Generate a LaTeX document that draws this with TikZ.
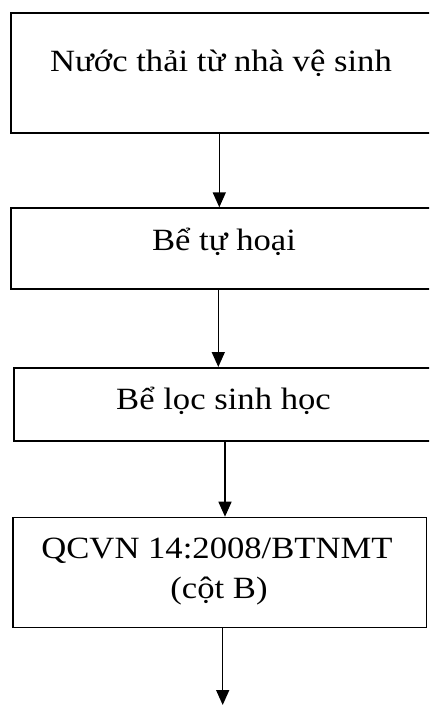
\documentclass[tikz,border=0pt]{standalone}
\usepackage{fontspec}
\setmainfont[FakeStretch=1.12]{Liberation Serif}
\usetikzlibrary{arrows.meta}
\begin{document}
\begin{tikzpicture}[x=0.75pt,y=-0.75pt,
  box/.style={draw, line width=1.15pt, inner sep=0pt, anchor=north west},
  lbl/.style={anchor=base, inner sep=0pt, font=\fontsize{23.2pt}{27pt}\selectfont},
  flow/.style={line width=1.15pt, -{Triangle[width=9.75pt,length=11.25pt]}}]
\useasboundingbox (0,0) rectangle (429,706);
\clip (0,0) rectangle (429,706);
\node[box, minimum width=316.5pt, minimum height=89.8pt] (b1) at (10,12.3) {};
\node[box, minimum width=321pt, minimum height=60.5pt] (b2) at (10,207.3) {};
\node[box, minimum width=315.5pt, minimum height=55.1pt] (b3) at (13.3,367) {};
\node[box, minimum width=310pt, minimum height=82.5pt] (b4) at (12.3,516.7) {};
\node[lbl] (t1) at (221,72) {Nước thải từ nhà vệ sinh};
\node[lbl] (t2) at (224,250) {Bể tự hoại};
\node[lbl] (t3) at (223.5,409) {Bể lọc sinh học};
\node[lbl] (t4a) at (217,558) {QCVN 14:2008/BTNMT};
\node[lbl] (t4b) at (219,598) {(cột B)};
\coordinate (a1) at (219.3,0);
\coordinate (a2) at (218.3,0);
\coordinate (a3) at (225,0);
\coordinate (a4) at (222.7,0);
\coordinate (end) at (222.7,705);
\draw[flow] (b1.south -| a1) -- (b2.north -| a1);
\draw[flow] (b2.south -| a2) -- (b3.north -| a2);
\draw[flow] (b3.south -| a3) -- (b4.north -| a3);
\draw[flow] (b4.south -| a4) -- (end);
\end{tikzpicture}
\end{document}
